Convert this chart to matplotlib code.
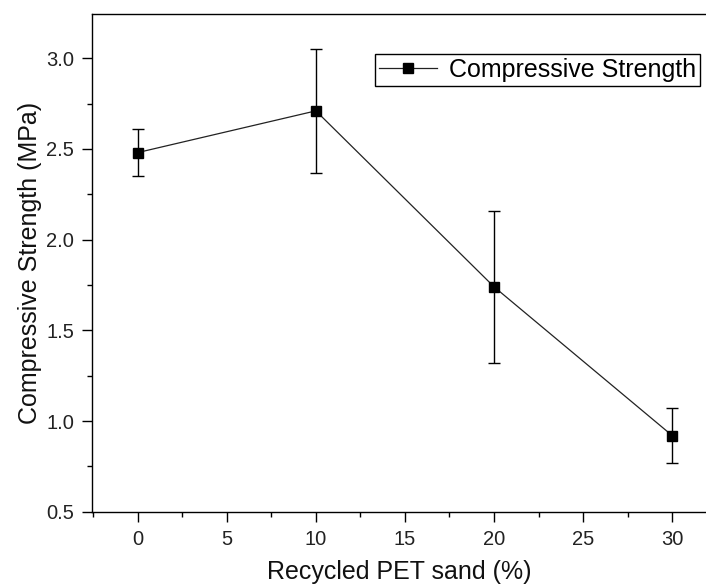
import matplotlib
matplotlib.use("Agg")
import matplotlib.pyplot as plt
from matplotlib.ticker import MultipleLocator
from matplotlib.lines import Line2D

plt.rcParams['font.family'] = ['Liberation Sans', 'DejaVu Sans']

pet = [0, 10, 20, 30]
strength = [2.48, 2.71, 1.74, 0.92]
err = [0.13, 0.34, 0.42, 0.15]

fig = plt.figure(figsize=(7.06, 5.87), dpi=100)
ax = fig.add_axes([92.3/706, 1-511.7/587, 1-92.3/706, (511.7-14)/587])

ax.errorbar(pet, strength, yerr=err, color='#222222', lw=0.9, marker='s',
            markersize=7.5, mfc='black', mec='black', ecolor='black',
            elinewidth=1.0, capsize=4, capthick=1.0)

ax.set_xlim(-2.55, 31.9)
ax.set_ylim(0.5, 3.244)
ax.xaxis.set_major_locator(MultipleLocator(5))
ax.xaxis.set_minor_locator(MultipleLocator(2.5))
ax.yaxis.set_major_locator(MultipleLocator(0.5))
ax.yaxis.set_minor_locator(MultipleLocator(0.25))
ax.yaxis.set_major_formatter(matplotlib.ticker.FormatStrFormatter('%.1f'))
ax.tick_params(which='major', direction='out', length=7, width=1.0,
               labelsize=14.5, pad=6, colors='black', labelcolor='#222222')
ax.tick_params(which='minor', direction='out', length=3.5, width=1.0)
ax.tick_params(top=False, right=False)
ax.spines['right'].set_visible(False)
for s in ['left', 'bottom', 'top']:
    ax.spines[s].set_linewidth(1.0)

ax.set_xlabel('Recycled PET sand (%)', fontsize=18, labelpad=8, color='#111111')
ax.set_ylabel('Compressive Strength (MPa)', fontsize=18, labelpad=3, color='#111111')

handle = Line2D([], [], color='#222222', lw=0.9, marker='s', markersize=7.5,
                mfc='black', mec='black')
leg = ax.legend([handle], ['Compressive Strength'], loc='upper right',
                bbox_to_anchor=(700/706, 1-54/587),
                bbox_transform=fig.transFigure, fontsize=18, frameon=True,
                fancybox=False, edgecolor='black', framealpha=1,
                borderpad=0.15, handlelength=2.3, handletextpad=0.5,
                borderaxespad=0)
leg.get_frame().set_linewidth(1.0)

fig.savefig('out.png', dpi=100)
